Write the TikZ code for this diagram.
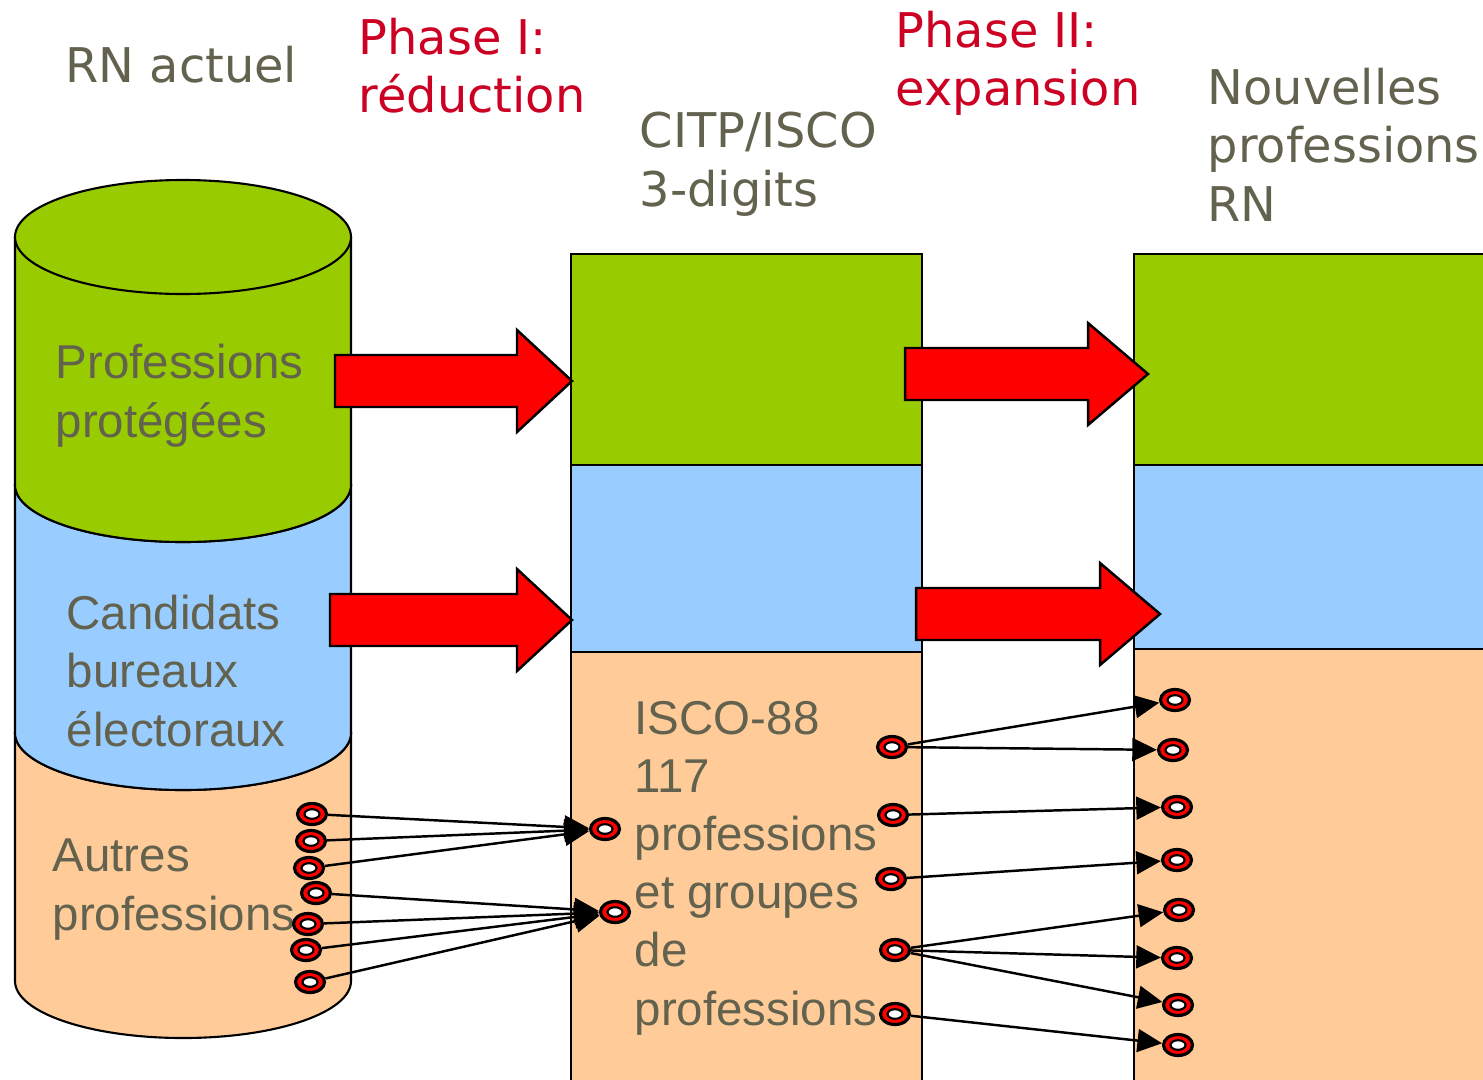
\documentclass[tikz,border=0pt]{standalone}
\usepackage{fontspec}
\setmainfont{Liberation Sans}
\newfontfamily\headfont{DejaVu Sans}
\usetikzlibrary{arrows.meta,shapes.geometric}

\definecolor{protgreen}{RGB}{153,204,0}
\definecolor{bureaublue}{RGB}{153,204,255}
\definecolor{autrespeach}{RGB}{255,204,153}
\definecolor{labelgray}{RGB}{98,98,78}
\definecolor{phasered}{RGB}{204,0,34}

\tikzstyle{block}=[draw,line width=0.6pt]
\tikzstyle{bigarrow}=[draw,line width=0.7pt,fill=red]
\tikzstyle{ring}=[ellipse,draw,line width=0.9pt,fill=red,minimum width=0.29cm,minimum height=0.21cm,inner sep=0pt,
    path picture={\draw[fill=white,line width=0.6pt] (path picture bounding box.center) ellipse (0.075cm and 0.048cm);}]
\tikzstyle{link}=[draw,line width=0.7pt,-{Triangle[length=7pt,width=6.5pt]}]
\tikzstyle{boxtext}=[labelgray,font=\fontsize{13.5}{16.5}\selectfont,align=left,anchor=base west,inner sep=0pt]
\tikzstyle{headtext}=[labelgray,font=\headfont\fontsize{13.6}{16.5}\selectfont,align=left,anchor=base west,inner sep=0pt]
\tikzstyle{phasetext}=[headtext,phasered]

% colour, top centre, bottom centre
\newcommand{\drawcyl}[3]{%
    \filldraw[block,fill=#1] (15,#2) -- (15,#3) arc (180:0:168 and 57) -- (351,#2);
    \filldraw[block,fill=#1] (183,#2) ellipse (168 and 57);}

\begin{document}
\begin{tikzpicture}[x=0.01cm, y=-0.01cm]
    \useasboundingbox (0,0) rectangle (1483,1079);
    \clip (0,0) rectangle (1483,1079);

    % First we draw the stacked cylinder, bottom part first
    \drawcyl{autrespeach}{733}{981}
    \drawcyl{bureaublue}{485}{733}
    \drawcyl{protgreen}{237}{485}

    % The two columns of boxes
    \foreach \xa/\xb/\ym in {571/922/652, 1134/1500/649} {
        \filldraw[block,fill=protgreen] (\xa,254) rectangle (\xb,465);
        \filldraw[block,fill=bureaublue] (\xa,465) rectangle (\xb,\ym);
        \filldraw[block,fill=autrespeach] (\xa,\ym) rectangle (\xb,1100);
    }

    % Titles and texts (placed at the baseline of their last line)
    \node[headtext] (rn) at (65,83) {RN actuel};
    \node[phasetext] (phase1) at (358,113) {Phase I:\\réduction};
    \node[headtext] (citp) at (639,206) {CITP/ISCO\\3-digits};
    \node[phasetext] (phase2) at (895,106) {Phase II:\\expansion};
    \node[headtext] (nouv) at (1207,221) {Nouvelles\\professions\\RN};
    \node[boxtext] (prot) at (55,437) {Professions\\protégées};
    \node[boxtext] (cand) at (66,746) {Candidats\\bureaux\\électoraux};
    \node[boxtext] (autres) at (52,930) {Autres\\professions};
    \node[boxtext] (isco) at (634,1025) {ISCO-88\\117\\professions\\et groupes\\de\\professions};

    % Red block arrows
    \foreach \sx/\hx/\tx/\cy in {335/517/572/381, 330/517/572/620, 905/1088/1148/374, 916/1100/1160/614}
        \path[bigarrow] (\sx,{\cy-26}) -- (\hx,{\cy-26}) -- (\hx,{\cy-51}) -- (\tx,\cy)
            -- (\hx,{\cy+51}) -- (\hx,{\cy+26}) -- (\sx,{\cy+26}) -- cycle;

    % Then the small rings
    \foreach \pos/\name in {{(312,814)/l1}, {(311,841)/l2}, {(309,868)/l3}, {(316,893)/l4},
        {(308,924)/l5}, {(306,950)/l6}, {(310,982)/l7},
        {(605,829)/m1}, {(615,912)/m2},
        {(892,747)/n1}, {(893,815)/n2}, {(891,879)/n3}, {(895,950)/n4}, {(895,1014)/n5},
        {(1175,700)/r1}, {(1173,750)/r2}, {(1177,807)/r3}, {(1177,860)/r4},
        {(1179,910)/r5}, {(1177,958)/r6}, {(1178,1005)/r7}, {(1178,1045)/r8}}
        \node[ring] (\name) at \pos {};

    % Connect rings
    \foreach \source/\dest in {l1/m1, l2/m1, l3/m1, l4/m2, l5/m2, l6/m2, l7/m2,
        n1/r1, n1/r2, n2/r3, n3/r4, n4/r5, n4/r6, n4/r7, n5/r8}
        \path[link] (\source) -- (\dest);
\end{tikzpicture}
\end{document}
